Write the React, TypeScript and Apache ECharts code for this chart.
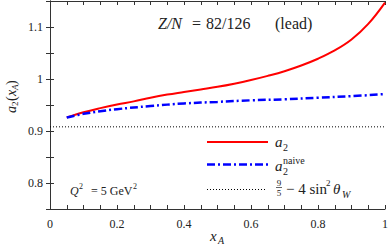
import React, { useEffect, useRef } from "react";
import * as echarts from "echarts";

const xA = [0.05, 0.1, 0.15, 0.2, 0.25, 0.3, 0.35, 0.4, 0.45, 0.5, 0.55, 0.6, 0.65, 0.7, 0.75, 0.8, 0.85, 0.9, 0.95, 1.0];
const a2 = [0.926, 0.936, 0.944, 0.951, 0.957, 0.964, 0.970, 0.975, 0.980, 0.985, 0.991, 0.998, 1.006, 1.015, 1.026, 1.039, 1.055, 1.076, 1.106, 1.147];
const xNaive = [0.05, 0.1, 0.15, 0.2, 0.3, 0.4, 0.5, 0.6, 0.7, 0.8, 0.9, 1.0];
const a2Naive = [0.926, 0.933, 0.938, 0.942, 0.948, 0.953, 0.956, 0.959, 0.961, 0.964, 0.967, 0.971];
const xRef = [0, 1];
const yRef = [0.908, 0.908];

const FONT = "Liberation Serif";
const TXT = "#222";

function t(text: string, x: number, y: number, size: number, italic = false, align = "left") {
  return {
    type: "text",
    x,
    y,
    z: 100,
    style: {
      text,
      fontSize: size,
      fontFamily: FONT,
      fontStyle: italic ? "italic" : "normal",
      fill: TXT,
      align,
      verticalAlign: "middle",
    },
  };
}

export default function App() {
  const ref = useRef<HTMLDivElement>(null);
  useEffect(() => {
    document.body.style.margin = "0";
    const chart = echarts.init(ref.current!, null, { renderer: "svg" });
    const axisLine = { show: true, lineStyle: { color: "#333", width: 1 } };
    const tick = { show: true, inside: true, length: 4, lineStyle: { color: "#333" } };
    const xBase = {
      type: "value",
      min: 0,
      max: 1,
      interval: 0.2,
      axisLine,
      axisTick: tick,
      minorTick: { show: true, splitNumber: 4, length: 4, lineStyle: { color: "#333" } },
      splitLine: { show: false },
      minorSplitLine: { show: false },
    };
    const yBase = {
      type: "value",
      min: 0.75,
      max: 1.15,
      interval: 0.05,
      axisLine,
      axisTick: tick,
      splitLine: { show: false },
    };
    const option: any = {
      animation: false,
      textStyle: { fontFamily: FONT },
      grid: { left: 50, right: 5, top: 1, bottom: 36, containLabel: false },
      xAxis: [
        {
          ...xBase,
          position: "bottom",
          axisLabel: {
            show: true,
            margin: 9,
            fontSize: 12,
            fontFamily: FONT,
            color: TXT,
            formatter: (v: number) => String(Math.round(v * 10) / 10),
          },
        },
        { ...xBase, position: "top", axisLabel: { show: false } },
      ],
      yAxis: [
        {
          ...yBase,
          position: "left",
          axisLabel: {
            show: true,
            margin: 7,
            fontSize: 12,
            fontFamily: FONT,
            color: TXT,
            formatter: (v: number) => {
              const r = Math.round(v * 100);
              if (r % 10 !== 0) return "";
              return String(r / 100);
            },
          },
        },
        { ...yBase, position: "right", axisLabel: { show: false } },
      ],
      series: [
        {
          type: "line",
          data: xRef.map((x, i) => [x, yRef[i]]),
          symbol: "none",
          lineStyle: { color: "#000", width: 1, type: [1, 2] },
        },
        {
          type: "line",
          data: xA.map((x, i) => [x, a2[i]]),
          symbol: "none",
          smooth: 0.4,
          lineStyle: { color: "#ff0000", width: 2 },
        },
        {
          type: "line",
          data: xNaive.map((x, i) => [x, a2Naive[i]]),
          symbol: "none",
          smooth: 0.4,
          lineStyle: { color: "#0000ff", width: 2.5, type: [8, 3, 2, 3] },
        },
      ],
      graphic: [
        t("Z/N", 158, 23, 16, true),
        t("=", 192, 23, 16),
        t("82/126", 206, 23, 16),
        t("(lead)", 275, 23, 16),
        t("Q", 70, 191, 12, true),
        t("2", 79, 186, 8),
        t("= 5 GeV", 91, 191, 12),
        t("2", 133, 186, 8),
        t("x", 210, 236, 15, true),
        t("A", 218, 240, 10, true),
        {
          type: "group",
          x: 11,
          y: 97,
          rotation: Math.PI / 2,
          children: [
            t("a", -16, 0, 14, true),
            t("2", -9, 4, 9),
            t("(", -4, 0, 14),
            t("x", 1, 0, 14, true),
            t("A", 7, 4, 9, true),
            t(")", 12, 0, 14),
          ],
        },
        { type: "line", z: 100, shape: { x1: 207, y1: 142, x2: 268, y2: 142 }, style: { stroke: "#ff0000", lineWidth: 2 } },
        t("a", 275, 142, 15, true),
        t("2", 283, 147, 10),
        { type: "line", z: 100, shape: { x1: 207, y1: 164.5, x2: 268, y2: 164.5 }, style: { stroke: "#0000ff", lineWidth: 2.5, lineDash: [8, 3, 2, 3] } },
        t("a", 275, 166, 15, true),
        t("2", 283, 171, 10),
        t("naive", 283, 160, 10),
        { type: "line", z: 100, shape: { x1: 207, y1: 189.5, x2: 265, y2: 189.5 }, style: { stroke: "#000", lineWidth: 1, lineDash: [1, 2] } },
        t("9", 279, 182.5, 9, false, "center"),
        { type: "line", z: 100, shape: { x1: 276, y1: 187.5, x2: 282, y2: 187.5 }, style: { stroke: TXT, lineWidth: 0.7 } },
        t("5", 279, 193, 9, false, "center"),
        t("− 4 sin", 286, 189, 15),
        t("2", 326, 183, 9),
        t("θ", 333, 189, 15, true),
        t("W", 342, 194, 10, true),
      ],
    };
    chart.setOption(option);
    return () => chart.dispose();
  }, []);
  return <div ref={ref} style={{ width: 391, height: 245 }} />;
}
